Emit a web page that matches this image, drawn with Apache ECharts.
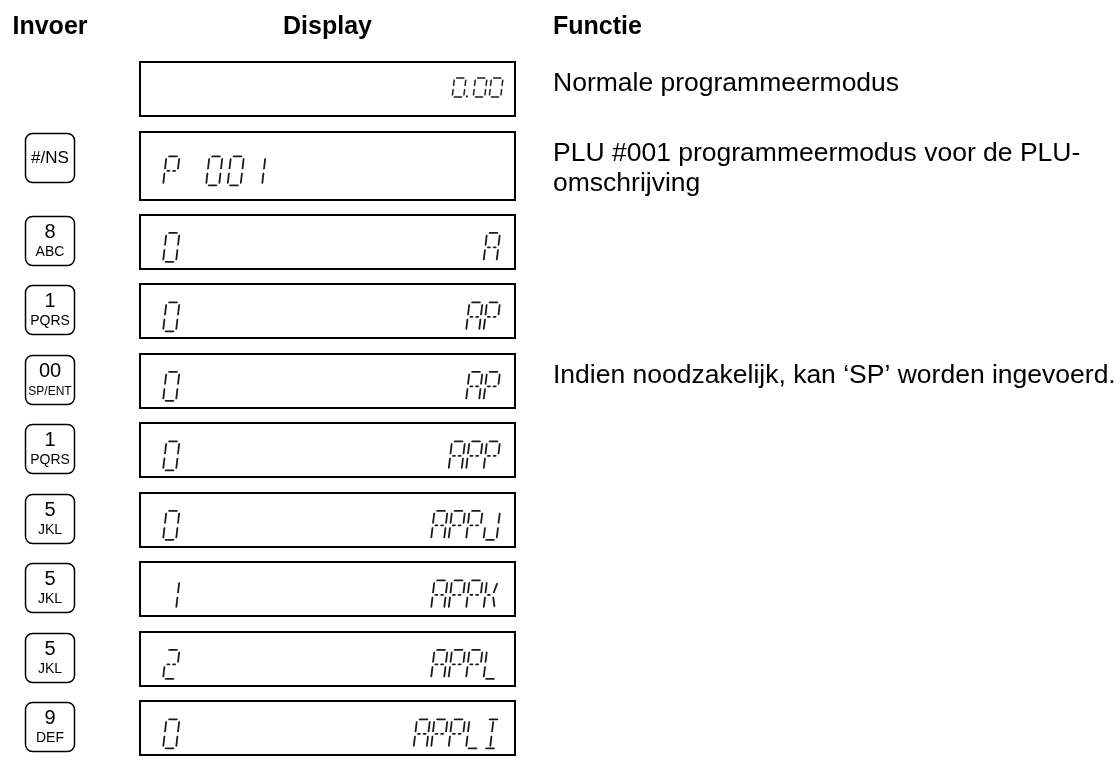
<!DOCTYPE html>
<html><head><meta charset="utf-8">
<script src="https://cdn.jsdelivr.net/npm/echarts@6/dist/echarts.min.js"></script>
<style>html,body{margin:0;padding:0;background:#fff;overflow:hidden}#c{width:1120px;height:765px}</style>
</head><body><div id="c"></div>
<script>
// ---- data ----
const headers = ['Invoer', 'Display', 'Functie'];
const keyMain = ['', '#/NS', '8', '1', '00', '1', '5', '5', '5', '9'];
const keySub = ['', '', 'ABC', 'PQRS', 'SP/ENT', 'PQRS', 'JKL', 'JKL', 'JKL', 'DEF'];
const displayLeft = ['', 'P 001', '0', '0', '0', '0', '0', '1', '2', '0'];
const displayRight = ['0.00', '', 'A', 'AP', 'AP', 'APP', 'APPJ', 'APPK', 'APPL', 'APPLI'];
const functionText = [
  'Normale programmeermodus',
  'PLU #001 programmeermodus voor de PLU-\nomschrijving',
  '', '',
  'Indien noodzakelijk, kan \u2018SP\u2019 worden ingevoerd.',
  '', '', '', '', ''
];

// ---- layout / style ----
const EXTRA_LINE = 0.2;           // extra row span per additional text line
const GAP = 15.5;                 // px between display boxes
const KEY_X = 25.5, KEY_W = 49, KEY_H = 49, KEY_R = 7;
const BOX_X = 140, BOX_W = 375;
const FUNC_X = 553;
const COL_X = [50, 327.5, 553], COL_ALIGN = ['center', 'center', 'left'];
const SANS = '"Liberation Sans",Arial,Helvetica,sans-serif';
const SEG_COLOR = '#1a1a1a';
const BIG = { h: 29, w: 13, slant: 0.12, t: 1.8, g: 1.5 };
const SMALL = { h: 19, w: 11.5, slant: 0.12, t: 1.5, g: 1.2 };
const LEFT_START = 163, LEFT_PITCH = 21.5;
const RIGHT_END = 500, RIGHT_PITCH = 17.5;
const SMALL_RIGHT_END = 503, SMALL_PITCH = 16, DOT_SPACE = 5;

const SEGMENTS = {
  '0': 'a b c d e f', '1': 'b c', '2': 'a b g1 g2 e d', '3': 'a b c d g1 g2',
  '4': 'f g1 g2 b c', '5': 'a f g1 g2 c d', '6': 'a f e d c g1 g2', '7': 'a b c',
  '8': 'a b c d e f g1 g2', '9': 'a b c d f g1 g2',
  'A': 'a b c e f g1 g2', 'P': 'a b e f g1 g2', 'J': 'b c d e',
  'K': 'f e g1 j m', 'L': 'f e d', 'I': 'a d i l', ' ': ''
};

const rowSpan = functionText.map(t => 1 + EXTRA_LINE * (t ? t.split('\n').length - 1 : 0));
const rowStart = [];
rowSpan.reduce((acc, s, i) => { rowStart[i] = acc; return acc + s; }, 0);
const totalSpan = rowSpan.reduce((a, b) => a + b, 0);

function segEnds(name, w, h, g) {
  const m = h / 2, c = w / 2;
  switch (name) {
    case 'a': return [[g, 0], [w - g, 0]];
    case 'd': return [[g, h], [w - g, h]];
    case 'f': return [[0, g], [0, m - g]];
    case 'e': return [[0, m + g], [0, h - g]];
    case 'b': return [[w, g], [w, m - g]];
    case 'c': return [[w, m + g], [w, h - g]];
    case 'g1': return [[g, m], [c - g / 2, m]];
    case 'g2': return [[c + g / 2, m], [w - g, m]];
    case 'i': return [[c, g], [c, m - g]];
    case 'l': return [[c, m + g], [c, h - g]];
    case 'h': return [[1.5 * g, 1.5 * g], [c - g, m - g]];
    case 'j': return [[w - 1.5 * g, 1.5 * g], [c + g, m - g]];
    case 'k': return [[c - g, m + g], [1.5 * g, h - 1.5 * g]];
    case 'm': return [[c + g, m + g], [w - 1.5 * g, h - 1.5 * g]];
  }
  return null;
}

function glyph(ch, left, top, st, out) {
  const segs = (SEGMENTS[ch] || '').split(' ').filter(Boolean);
  const s = st.slant * st.h;
  const tr = (x, y) => [left + x + s * (1 - y / st.h), top + y];
  segs.forEach(name => {
    const e = segEnds(name, st.w, st.h, st.g);
    if (!e) return;
    const [p1, p2] = e;
    const dx = p2[0] - p1[0], dy = p2[1] - p1[1];
    const len = Math.hypot(dx, dy) || 1;
    const ux = dx / len, uy = dy / len, nx = -uy, ny = ux, hf = st.t / 2;
    const pts = [
      p1,
      [p1[0] + ux * hf + nx * hf, p1[1] + uy * hf + ny * hf],
      [p2[0] - ux * hf + nx * hf, p2[1] - uy * hf + ny * hf],
      p2,
      [p2[0] - ux * hf - nx * hf, p2[1] - uy * hf - ny * hf],
      [p1[0] + ux * hf - nx * hf, p1[1] + uy * hf - ny * hf]
    ].map(p => tr(p[0], p[1]));
    out.push({ type: 'polygon', shape: { points: pts }, style: { fill: SEG_COLOR } });
  });
}

function cellsOf(str) {
  const cells = [];
  for (const ch of str) {
    if (ch === '.' && cells.length) cells[cells.length - 1].dot = true;
    else cells.push({ ch, dot: false });
  }
  return cells;
}

function drawDot(left, top, st, out) {
  const x = left + st.w + 2.2, y = top + st.h - st.t;
  out.push({ type: 'rect', shape: { x, y, width: st.t + 0.4, height: st.t + 0.4 }, style: { fill: SEG_COLOR } });
}

function renderItem(params, api) {
  const i = api.value(2);
  const y0 = api.coord([0, rowStart[i]])[1] + GAP / 2;
  const y1 = api.coord([0, rowStart[i] + rowSpan[i]])[1] - GAP / 2;
  const cy = (y0 + y1) / 2;
  const ch = [];
  // display box
  ch.push({ type: 'rect', shape: { x: BOX_X, y: Math.round(y0), width: BOX_W, height: Math.round(y1 - y0) },
    style: { fill: '#fff', stroke: '#000', lineWidth: 2 } });
  // key
  if (keyMain[i]) {
    const kt = Math.round(y0) + 1.5;
    ch.push({ type: 'rect', shape: { x: KEY_X, y: kt, width: KEY_W, height: KEY_H, r: KEY_R },
      style: { fill: '#fff', stroke: '#000', lineWidth: 1.5 } });
    const kx = KEY_X + KEY_W / 2;
    if (keySub[i]) {
      ch.push({ type: 'text', style: { text: keyMain[i], x: kx, y: kt + 16, align: 'center', verticalAlign: 'middle',
        font: '20px ' + SANS, fill: '#000' } });
      ch.push({ type: 'text', style: { text: keySub[i], x: kx, y: kt + 36, align: 'center', verticalAlign: 'middle',
        font: (keySub[i].length > 4 ? 12 : 14) + 'px ' + SANS, fill: '#000' } });
    } else {
      ch.push({ type: 'text', style: { text: keyMain[i], x: kx, y: kt + KEY_H / 2, align: 'center', verticalAlign: 'middle',
        font: '17px ' + SANS, fill: '#000' } });
    }
  }
  // left display text
  if (displayLeft[i]) {
    const top = cy + 5.5 - BIG.h / 2;
    cellsOf(displayLeft[i]).forEach((c, k) => {
      const left = LEFT_START + k * LEFT_PITCH;
      glyph(c.ch, left, top, BIG, ch);
      if (c.dot) drawDot(left, top, BIG, ch);
    });
  }
  // right display text
  if (displayRight[i]) {
    const isAmount = displayRight[i].indexOf('.') >= 0;
    const st = isAmount ? SMALL : BIG;
    const pitch = isAmount ? SMALL_PITCH : RIGHT_PITCH;
    const top = isAmount ? cy - 1.5 - st.h / 2 : cy + 5.5 - st.h / 2;
    let x = (isAmount ? SMALL_RIGHT_END : RIGHT_END) - st.slant * st.h - st.w;
    const cells = cellsOf(displayRight[i]);
    for (let k = cells.length - 1; k >= 0; k--) {
      const c = cells[k];
      if (c.dot) x -= DOT_SPACE;
      glyph(c.ch, x, top, st, ch);
      if (c.dot) drawDot(x, top, st, ch);
      x -= pitch;
    }
  }
  // function text
  if (functionText[i]) {
    ch.push({ type: 'text', style: { text: functionText[i], x: FUNC_X, y: Math.round(y0) + 7, align: 'left', verticalAlign: 'top',
      font: '26.5px ' + SANS, lineHeight: 30, fill: '#000' } });
  }
  return { type: 'group', children: ch };
}

const chart = echarts.init(document.getElementById('c'), null, { renderer: 'canvas' });
chart.setOption({
  animation: false,
  backgroundColor: '#fff',
  grid: { left: 0, right: 0, top: 54.25, bottom: 765 - 54.25 - totalSpan * 69.5, containLabel: false },
  xAxis: { type: 'value', min: 0, max: 1, show: false },
  yAxis: { type: 'value', min: 0, max: totalSpan, inverse: true, show: false },
  graphic: headers.map((h, k) => ({
    type: 'text', x: COL_X[k], y: 27,
    style: { text: h, align: COL_ALIGN[k], verticalAlign: 'middle', font: 'bold 25px ' + SANS, fill: '#000' }
  })),
  series: [{
    type: 'custom',
    clip: false,
    renderItem,
    data: keyMain.map((_, i) => [0.5, rowStart[i] + rowSpan[i] / 2, i]),
    silent: true
  }]
});
</script>
</body></html>
